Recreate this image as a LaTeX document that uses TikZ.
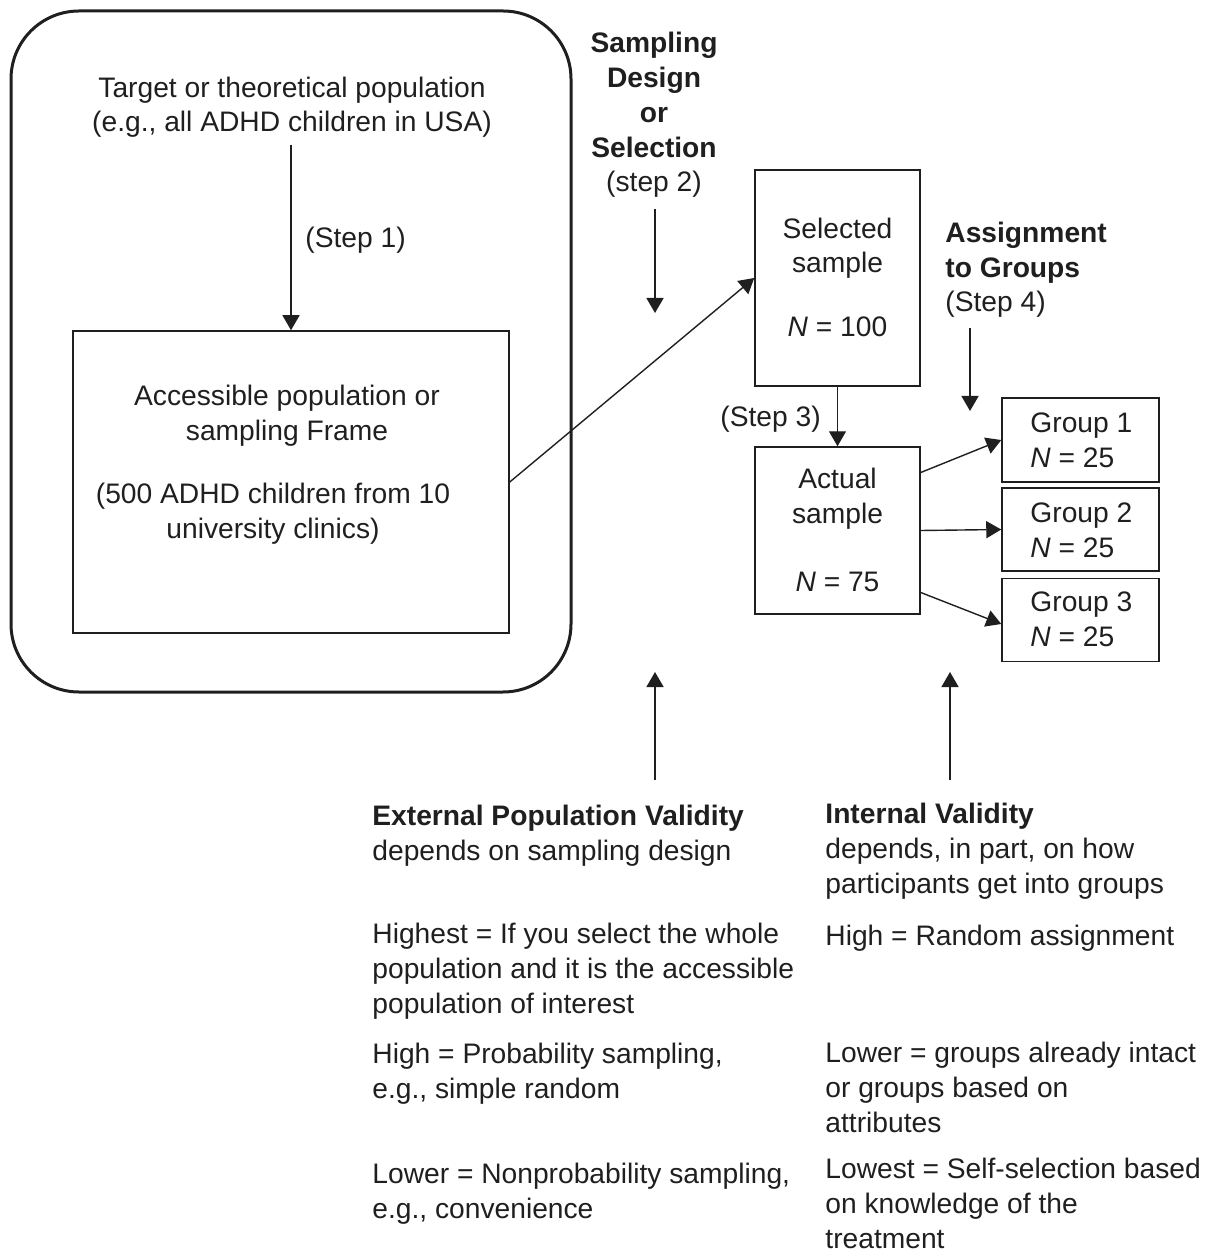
\documentclass[tikz,border=0pt]{standalone}
\usepackage{fontspec}
\setmainfont{Liberation Sans}
\usetikzlibrary{arrows.meta,calc}
\definecolor{ink}{gray}{0.12}
\tikzset{
  txt/.style={inner sep=0pt, text=ink, font=\fontsize{14.1pt}{17.4pt}\selectfont},
  box/.style={draw=ink, line width=0.75pt, inner sep=0pt},
  arr/.style={draw=ink, line width=0.7pt, -{Triangle[length=7.5pt,width=8.5pt]}}
}
\begin{document}
\begin{tikzpicture}[x=0.5pt,y=-0.5pt]
\useasboundingbox (0,0) rectangle (1205,1256);
% frame
\node[draw=ink, line width=1.5pt, rounded corners=34pt, minimum width=280pt, minimum height=340.5pt, inner sep=0pt] (frame) at (291,351.5) {};
% boxes
\node[box, minimum width=218pt, minimum height=151pt] (acc) at (291,482) {};
\node[box, minimum width=82.5pt, minimum height=108pt] (sel) at (837.5,278) {};
\node[box, minimum width=82.5pt, minimum height=83.5pt] (act) at (837.5,530.5) {};
\node[box, minimum width=78.5pt, minimum height=42pt] (g1) at (1080.5,440) {};
\node[box, minimum width=78.5pt, minimum height=41.5pt] (g2) at (1080.5,529.5) {};
\node[box, minimum width=78.5pt, minimum height=41.5pt] (g3) at (1080.5,620) {};
% texts (anchor base = baseline of the last line)
\node[txt, align=center, anchor=base] (target) at (292,132) {Target or theoretical population\\(e.g., all ADHD children in USA)};
\node[txt, anchor=base west] (step1) at (305,248) {(Step 1)};
\node[txt, align=center, anchor=base] (acct1) at (287,440) {Accessible population or\\sampling Frame};
\node[txt, align=center, anchor=base] (acct2) at (273,538) {(500 ADHD children from 10\\university clinics)};
\node[txt, align=center, anchor=base] (sdesign) at (654,192) {\textbf{Sampling}\\\textbf{Design}\\\textbf{or}\\\textbf{Selection}\\(step 2)};
\node[txt, align=center, anchor=base] (selt) at (837.5,273) {Selected\\sample};
\node[txt, anchor=base] (seln) at (837.5,337) {\textit{N} = 100};
\node[txt, align=left, anchor=base west] (assign) at (945,312) {\textbf{Assignment}\\\textbf{to Groups}\\(Step 4)};
\node[txt, anchor=base west] (step3) at (720,426) {(Step 3)};
\node[txt, align=center, anchor=base] (actt) at (837.5,523) {Actual\\sample};
\node[txt, anchor=base] (actn) at (837.5,591) {\textit{N} = 75};
\node[txt, align=left, anchor=base west] (g1t) at (1030,467) {Group 1\\\textit{N} = 25};
\node[txt, align=left, anchor=base west] (g2t) at (1030,557) {Group 2\\\textit{N} = 25};
\node[txt, align=left, anchor=base west] (g3t) at (1030,646) {Group 3\\\textit{N} = 25};
% bottom texts
\node[txt, align=left, anchor=base west] (ext) at (372,860) {\textbf{External Population Validity}\\depends on sampling design};
\node[txt, align=left, anchor=base west] (ext1) at (372,1013) {Highest = If you select the whole\\population and it is the accessible\\population of interest};
\node[txt, align=left, anchor=base west] (ext2) at (372,1098) {High = Probability sampling,\\e.g., simple random};
\node[txt, align=left, anchor=base west] (ext3) at (372,1218) {Lower = Nonprobability sampling,\\e.g., convenience};
\node[txt, align=left, anchor=base west] (int) at (825,893) {\textbf{Internal Validity}\\depends, in part, on how\\participants get into groups};
\node[txt, align=left, anchor=base west] (int1) at (825,945) {High = Random assignment};
\node[txt, align=left, anchor=base west] (int2) at (825,1132) {Lower = groups already intact\\or groups based on\\attributes};
\node[txt, align=left, anchor=base west] (int3) at (825,1248) {Lowest = Self-selection based\\on knowledge of the\\treatment};
% free-end coordinates
\coordinate (s1a) at (291,145);
\coordinate (s2a) at (655,209);
\coordinate (s2b) at (655,313);
\coordinate (s4a) at (970,328);
\coordinate (s4b) at (970,411);
\coordinate (u1a) at (655,780);
\coordinate (u1b) at (655,672);
\coordinate (u2a) at (950,780);
\coordinate (u2b) at (950,672);
% connectors
\draw[arr] (s1a) -- (acc.north);
\draw[arr] (acc.east) -- (sel.west);
\draw[arr] (s2a) -- (s2b);
\draw[arr] (sel.south) -- (act.north);
\draw[arr] (s4a) -- (s4b);
\draw[arr] ([yshift=29pt]act.east) -- (g1.west);
\draw[arr] (act.east) -- (g2.west);
\draw[arr] ([yshift=-31pt]act.east) -- ([yshift=-2pt]g3.west);
\draw[arr] (u1a) -- (u1b);
\draw[arr] (u2a) -- (u2b);
\end{tikzpicture}
\end{document}
